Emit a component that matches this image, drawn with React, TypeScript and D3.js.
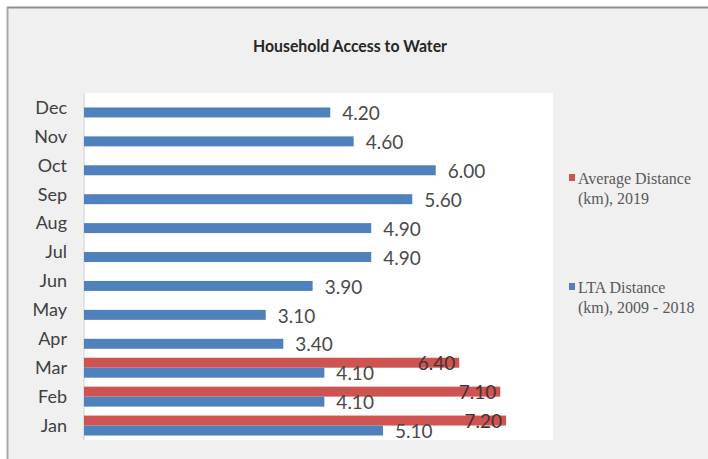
import React from "react";
import * as d3 from "d3";

const months = ["Jan", "Feb", "Mar", "Apr", "May", "Jun", "Jul", "Aug", "Sep", "Oct", "Nov", "Dec"];
const avg2019: (number | null)[] = [7.2, 7.1, 6.4, null, null, null, null, null, null, null, null, null];
const lta: number[] = [5.1, 4.1, 4.1, 3.4, 3.1, 3.9, 4.9, 4.9, 5.6, 6.0, 4.6, 4.2];
const seriesNames = ["Average Distance (km), 2019", "LTA Distance (km), 2009 - 2018"];
const legendLines = [["Average Distance", "(km), 2019"], ["LTA Distance", "(km), 2009 - 2018"]];
const colors = ["#CF5350", "#4F81BD"];
const title = "Household Access to Water";

const W = 708, H = 459;
const plot = { left: 84, right: 553, top: 93, bottom: 440 };
const SANS = "Lato, 'Open Sans', sans-serif";
const SERIF = "'Liberation Serif', 'Times New Roman', serif";

export default function App() {
  const x = d3.scaleLinear().domain([0, 8]).range([plot.left, plot.right]);
  const y = d3
    .scaleBand<string>()
    .domain([...months].reverse())
    .range([plot.top, plot.bottom])
    .paddingInner(0.31)
    .paddingOuter(0.155);
  const sub = d3.scaleBand<number>().domain([0, 1]).range([0, y.bandwidth()]);
  const data = [avg2019, lta];
  const fmt = d3.format(".2f");

  return (
    <svg width={W} height={H} style={{ position: "absolute", left: 0, top: 0 }}>
      <rect x={0} y={0} width={W} height={H} fill="#ffffff" />
      <rect x={7} y={7} width={W - 7} height={H - 7} fill="#f0f0f0" />
      <line x1={7} x2={W} y1={7.5} y2={7.5} stroke="#8f8f8f" strokeWidth={2} />
      <line x1={7.5} x2={7.5} y1={7} y2={H} stroke="#a8a8a8" strokeWidth={2} />
      <text
        x={350}
        y={52}
        textAnchor="middle"
        fontFamily={SANS}
        fontWeight="bold"
        fontSize={17}
        fill="#262626"
        textLength={194}
        lengthAdjust="spacingAndGlyphs"
      >
        {title}
      </text>
      <rect x={plot.left} y={plot.top} width={plot.right - plot.left} height={plot.bottom - plot.top} fill="#ffffff" />
      <line x1={plot.left} x2={plot.left} y1={plot.top} y2={plot.bottom} stroke="#d0d0d0" strokeWidth={1} />
      {months.map((m, i) => (
        <g key={m}>
          {data.map((arr, s) => {
            const v = arr[i];
            if (v == null) return null;
            const by = (y(m) as number) + (sub(s) as number);
            const bh = sub.bandwidth();
            const xe = x(v);
            return (
              <g key={s}>
                <rect x={x(0)} y={by} width={xe - x(0)} height={bh} fill={colors[s]} />
                {s === 0 ? (
                  <text x={xe - 4} y={by + bh / 2 + 1} dy="0.35em" textAnchor="end" fontFamily={SANS} fontSize={19} fill="#4a3030">
                    {fmt(v)}
                  </text>
                ) : (
                  <text x={xe + 12} y={by + bh / 2 + 1} dy="0.35em" textAnchor="start" fontFamily={SANS} fontSize={19} fill="#4a4a4a">
                    {fmt(v)}
                  </text>
                )}
              </g>
            );
          })}
          <text
            x={67}
            y={(y(m) as number) + y.bandwidth() / 2}
            dy="0.35em"
            textAnchor="end"
            fontFamily={SANS}
            fontSize={18}
            fill="#404040"
          >
            {m}
          </text>
        </g>
      ))}
      {seriesNames.map((name, s) => {
        const ly = s === 0 ? 178 : 287;
        return (
          <g key={name}>
            <rect x={569} y={ly - 4} width={6} height={7} fill={colors[s]} />
            {legendLines[s].map((ln, k) => (
              <text key={k} x={578} y={ly + k * 20.5} dy="0.35em" fontFamily={SERIF} fontSize={16} fill="#595959">
                {ln}
              </text>
            ))}
          </g>
        );
      })}
    </svg>
  );
}
